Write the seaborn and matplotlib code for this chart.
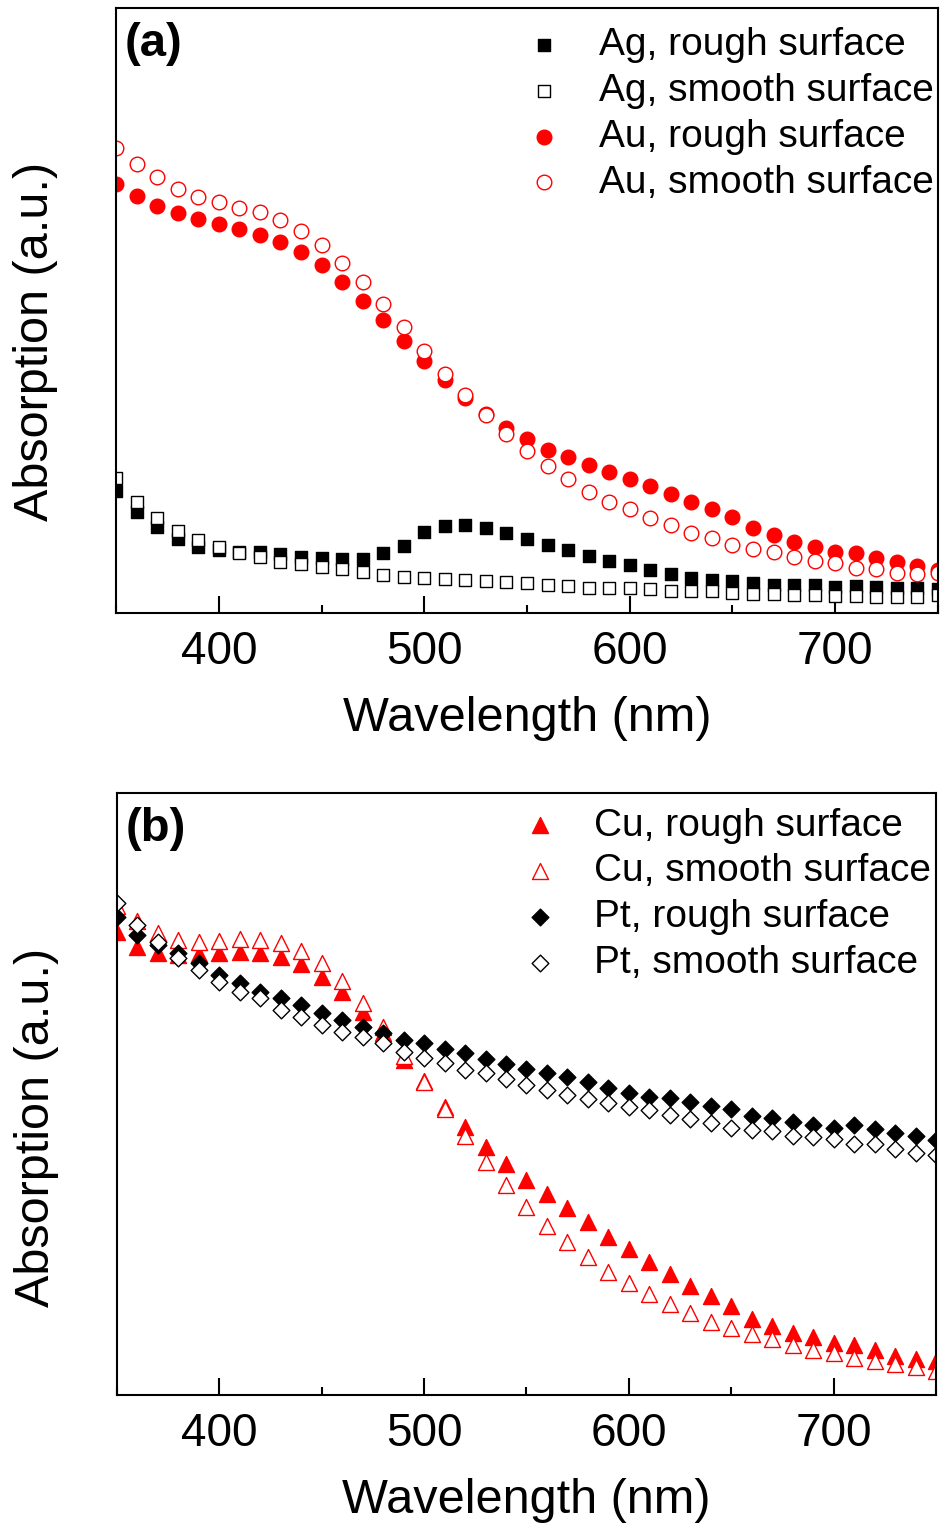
import numpy as np
import matplotlib
matplotlib.use("Agg")
import matplotlib.pyplot as plt
import seaborn as sns
from matplotlib.ticker import MultipleLocator

wavelength = list(range(350, 760, 10))

# Panel (a) absorption values (a.u.)
ag_rough = [122, 101, 86, 74, 66, 63, 61, 61, 59, 56, 55, 54, 54, 60, 67, 81, 87, 88, 85, 80, 74,
            68, 63, 57, 52, 48, 43, 39, 35, 33, 32, 30, 28, 28, 28, 26, 27, 26, 25, 25, 24]
ag_smooth = [135, 111, 95, 82, 73, 66, 60, 56, 51, 49, 46, 44, 41, 38, 36, 35, 34, 33, 32, 31, 30,
             28, 27, 25, 25, 25, 24, 22, 22, 22, 20, 19, 19, 18, 18, 17, 17, 16, 16, 16, 18]
au_rough = [429, 417, 407, 400, 394, 389, 384, 378, 371, 361, 348, 331, 312, 293, 272, 252, 233, 215,
            199, 185, 174, 163, 156, 148, 141, 134, 127, 119, 111, 104, 96, 85, 78, 71, 66, 61, 60,
            55, 51, 47, 43]
au_smooth = [465, 449, 436, 424, 416, 411, 405, 401, 393, 382, 368, 350, 331, 309, 286, 262, 239, 218,
             198, 179, 162, 147, 134, 121, 111, 104, 95, 88, 80, 75, 68, 64, 61, 56, 52, 50, 45, 44,
             40, 39, 40]

# Panel (b) absorption values (a.u.)
cu_rough = [463, 448, 442, 440, 441, 442, 443, 442, 438, 431, 418, 403, 383, 362, 335, 314, 288, 268,
            248, 231, 215, 201, 187, 173, 158, 146, 133, 121, 109, 99, 89, 76, 69, 62, 58, 52, 50,
            45, 39, 36, 34]
cu_smooth = [489, 474, 462, 455, 453, 454, 456, 455, 452, 444, 432, 414, 392, 368, 339, 313, 286, 259,
             233, 210, 188, 169, 153, 138, 123, 112, 101, 91, 82, 73, 67, 61, 56, 50, 45, 42, 37,
             34, 31, 28, 24]
pt_rough = [478, 460, 450, 442, 432, 420, 412, 403, 397, 390, 382, 375, 368, 362, 355, 352, 346, 342,
            336, 331, 326, 322, 318, 313, 307, 302, 298, 297, 293, 289, 286, 279, 277, 273, 270, 267,
            270, 266, 262, 259, 255]
pt_smooth = [492, 470, 453, 437, 425, 413, 403, 397, 385, 378, 370, 363, 358, 352, 343, 337, 332, 325,
             322, 316, 310, 305, 300, 296, 292, 288, 285, 280, 276, 272, 267, 265, 264, 259, 258, 256,
             251, 251, 246, 242, 240]

labels_a = ["Ag, rough surface", "Ag, smooth surface", "Au, rough surface", "Au, smooth surface"]
labels_b = ["Cu, rough surface", "Cu, smooth surface", "Pt, rough surface", "Pt, smooth surface"]
xticks = [400, 500, 600, 700]

sns.set_style("ticks")
plt.rcParams['font.family'] = ['Liberation Sans', 'DejaVu Sans']
plt.rcParams['text.color'] = 'black'
plt.rcParams['axes.labelcolor'] = 'black'
plt.rcParams['xtick.color'] = 'black'
plt.rcParams['ytick.color'] = 'black'

fig = plt.figure(figsize=(9.41, 15.26), dpi=100)
ax_a = fig.add_axes([0.1233, 0.5983, 0.8735, 0.3965])
ax_b = fig.add_axes([0.1243, 0.0858, 0.8704, 0.3945])

series_a = [
    (ag_rough, labels_a[0], 's', 'black', 'black', 8.8),
    (ag_smooth, labels_a[1], 's', 'white', 'black', 8.8),
    (au_rough, labels_a[2], 'o', 'red', 'red', 10.5),
    (au_smooth, labels_a[3], 'o', 'white', 'red', 10.5),
]
series_b = [
    (cu_rough, labels_b[0], '^', 'red', 'red', 11.5),
    (cu_smooth, labels_b[1], '^', 'white', 'red', 11.5),
    (pt_rough, labels_b[2], 'D', 'black', 'black', 8.5),
    (pt_smooth, labels_b[3], 'D', 'white', 'black', 8.5),
]

for ax, series, ymax, tag, ylab_y, leg_y in [(ax_a, series_a, 605, "(a)", 0.448, 1.0 - 4.0 / 605),
                                             (ax_b, series_b, 602, "(b)", 0.445, 1.0 + 1.0 / 602)]:
    for vals, lab, mk, fc, ec, ms in series:
        sns.scatterplot(x=wavelength, y=vals, ax=ax, marker=mk, s=ms ** 2,
                        facecolor=fc, edgecolor=ec, linewidth=1.0, label=lab, clip_on=True)
    ax.set_xlim(350, 750)
    ax.set_ylim(0, ymax)
    ax.set_xticks(xticks)
    ax.xaxis.set_minor_locator(MultipleLocator(50))
    ax.set_yticks([])
    ax.tick_params(axis='x', which='major', direction='in', length=12, width=1.5,
                   labelsize=33, pad=12, top=False, colors='black')
    ax.tick_params(axis='x', which='minor', direction='in', length=6, width=1.5, top=False)
    for sp in ax.spines.values():
        sp.set_visible(True)
        sp.set_linewidth(1.5)
        sp.set_color('black')
    ax.set_xlabel("Wavelength (nm)", fontsize=35, labelpad=16, color='black')
    ax.set_ylabel("Absorption (a.u.)", fontsize=35, color='black')
    ax.yaxis.set_label_coords(-0.0706, ylab_y)
    ax.text(0.011, 0.94, tag, transform=ax.transAxes, fontsize=34, fontweight='bold',
            ha='left', va='center', color='black')
    leg = ax.legend(loc='upper right', bbox_to_anchor=(1.0134, leg_y), frameon=False,
                    fontsize=28, borderaxespad=0.0, borderpad=0.4, labelspacing=0.25,
                    handlelength=1.0, handletextpad=0.9)
    for t in leg.get_texts():
        t.set_color('black')

fig.savefig("out.png", dpi=100)
